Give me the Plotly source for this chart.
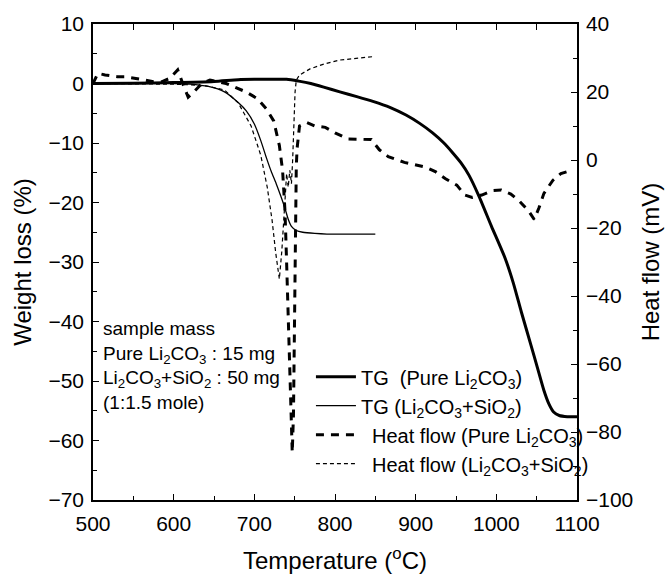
import plotly.graph_objects as go

# ---- data ----
tg_pure_T = [500, 550, 600, 650, 680, 700, 740, 755, 770, 786, 806, 827, 847, 868, 888, 905,
             921, 935, 945, 956, 966, 978, 994, 1011, 1021, 1031, 1043, 1051, 1059, 1065,
             1071, 1078, 1088, 1100]
tg_pure_W = [0, 0.05, 0.15, 0.35, 0.65, 0.7, 0.7, 0.4, 0, -0.6, -1.4, -2.2, -3.0, -4.0, -5.3, -6.7,
             -8.3, -10.0, -11.5, -13.3, -15.4, -18.8, -24, -29.4, -33.5, -38.4, -44, -47.8, -51.6, -53.8,
             -55.2, -55.8, -56, -56]

tg_mix_T = [500, 550, 600, 620, 643, 663, 680, 690, 700, 708, 715, 721, 727, 733, 738, 742,
            746, 752, 760, 775, 790, 850]
tg_mix_W = [0, 0, 0, -0.1, -0.5, -1.4, -3.2, -4.6, -6.8, -9.6, -12.5, -14.8, -16.8, -19, -21, -22.8,
            -24, -24.7, -25, -25.2, -25.3, -25.3]

hf_pure_T = [500, 506, 515, 530, 540, 555, 565, 575, 585, 595, 605, 612, 618, 625, 635, 645,
             655, 665, 675, 690, 704, 715, 724, 731, 735, 738, 740, 742, 744, 745.5, 747,
             748.5, 749.5, 750, 751, 752, 753, 756, 765, 775, 788, 800, 816, 830, 845, 855,
             866, 886, 900, 912, 925, 937, 951, 961, 970, 982, 995, 1006, 1018, 1029, 1040,
             1047, 1053, 1059, 1070, 1080, 1087]
hf_pure_Q = [22.5, 25.5, 25, 24.5, 24.5, 24, 23.5, 23, 23, 24, 26.5, 22, 18.5, 20, 22.5, 23.5,
             23, 22.5, 21.5, 20, 18, 15, 11.5, 4.3, -3, -15, -30, -45, -60, -75, -86,
             -75, -55, -35, -15, -2, 3.4, 10, 11, 10, 9.6, 8, 6.2, 6, 6, 3,
             1, -0.7, -1.5, -2.1, -3.5, -5.5, -7.4, -10.3, -11, -10.3, -9, -8.8, -10, -12.2, -15,
             -17.5, -14, -9.8, -6, -4, -3.5]

hf_mix_T = [500, 550, 600, 622, 640, 663, 680, 696, 708, 716, 722, 726.5, 731, 734, 736.5, 738.5,
            740, 742, 744, 746, 747.5, 749, 750.5, 752, 756, 769, 786, 806, 827, 847]
hf_mix_Q = [22.5, 22.5, 22.3, 22.1, 21.8, 20.6, 16.8, 10, 1.4, -8, -17.7, -27.3, -35, -27, -19, -10,
            -4, -8, -3, -7, 0, 12, 20, 23.5, 25, 26.8, 28.2, 29.4, 30, 30.4]

x_ticks = [500, 600, 700, 800, 900, 1000, 1100]
top_ticks = [550, 600, 650, 700, 750, 800, 850, 900, 950, 1000, 1050]
left_ticks = [10, 0, -10, -20, -30, -40, -50, -60, -70]
right_ticks = [40, 20, 0, -20, -40, -60, -80, -100]

FONT = "Liberation Sans, Arial, Helvetica, sans-serif"

fig = go.Figure()
fig.add_trace(go.Scatter(x=tg_pure_T, y=tg_pure_W, mode="lines",
                         line=dict(color="black", width=3, shape="spline", smoothing=0.6),
                         name="TG\u00a0\u00a0(Pure Li<sub>2</sub>CO<sub>3</sub>)", yaxis="y"))
fig.add_trace(go.Scatter(x=tg_mix_T, y=tg_mix_W, mode="lines",
                         line=dict(color="black", width=1.3, shape="spline", smoothing=0.6),
                         name="TG (Li<sub>2</sub>CO<sub>3</sub>+SiO<sub>2</sub>)", yaxis="y"))
fig.add_trace(go.Scatter(x=hf_pure_T, y=hf_pure_Q, mode="lines",
                         line=dict(color="black", width=3, dash="8px,7px"),
                         name="\u00a0\u00a0Heat flow (Pure Li<sub>2</sub>CO<sub>3</sub>)", yaxis="y2"))
fig.add_trace(go.Scatter(x=hf_mix_T, y=hf_mix_Q, mode="lines",
                         line=dict(color="black", width=1.2, dash="4px,3px"),
                         name="\u00a0\u00a0Heat flow (Li<sub>2</sub>CO<sub>3</sub>+SiO<sub>2</sub>)", yaxis="y2"))
# carrier for the top tick axis (draws nothing)
fig.add_trace(go.Scatter(x=[500], y=[0], mode="lines", xaxis="x2", yaxis="y",
                         showlegend=False, hoverinfo="skip", line=dict(color="rgba(0,0,0,0)")))

axis_common = dict(showline=True, linecolor="black", linewidth=1.5, ticks="inside", ticklen=6,
                   tickcolor="black", tickwidth=1.2, showgrid=False, zeroline=False,
                   tickfont=dict(family=FONT, size=21, color="black"))

fig.update_layout(
    width=672, height=582,
    margin=dict(l=93, r=88, t=16, b=79),
    paper_bgcolor="white", plot_bgcolor="white",
    font=dict(family=FONT, color="black"),
    showlegend=True,
    legend=dict(x=1.035, xanchor="right", y=0.30, yanchor="top", bgcolor="rgba(0,0,0,0)",
                font=dict(family=FONT, size=20, color="black"), tracegroupgap=0, itemwidth=40),
    xaxis=dict(range=[500, 1100], tickvals=x_ticks, mirror=True,
               minor=dict(dtick=50, ticks="inside", ticklen=4, tickcolor="black"),
               title=dict(text="Temperature (<sup>o</sup>C)", font=dict(family=FONT, size=24, color="black"),
                          standoff=18),
               ticklabelstandoff=4, **axis_common),
    xaxis2=dict(range=[500, 1100], overlaying="x", side="top", tickvals=top_ticks,
                showticklabels=False, ticks="inside", ticklen=6, tickcolor="black", tickwidth=1.4,
                showline=False, showgrid=False, zeroline=False),
    yaxis=dict(range=[-70, 10], tickvals=left_ticks,
               minor=dict(dtick=5, ticks="inside", ticklen=4, tickcolor="black"),
               title=dict(text="Weight loss (%)", font=dict(family=FONT, size=24, color="black"),
                          standoff=10),
               ticklabelstandoff=3, **axis_common),
    yaxis2=dict(range=[-100, 40], tickvals=right_ticks, overlaying="y", side="right",
                minor=dict(dtick=10, ticks="inside", ticklen=4, tickcolor="black"),
                title=dict(text="Heat flow (mV)", font=dict(family=FONT, size=24, color="black"),
                           standoff=10),
                ticklabelstandoff=3, **axis_common),
    annotations=[dict(xref="paper", yref="paper", x=0.016, y=0.387, xanchor="left", yanchor="top",
                      align="left", showarrow=False,
                      font=dict(family=FONT, size=19, color="black"),
                      text="sample mass<br>Pure Li<sub>2</sub>CO<sub>3</sub> : 15 mg<br>"
                           "Li<sub>2</sub>CO<sub>3</sub>+SiO<sub>2</sub> : 50 mg<br>(1:1.5 mole)")],
)

fig.write_html("out.html")
